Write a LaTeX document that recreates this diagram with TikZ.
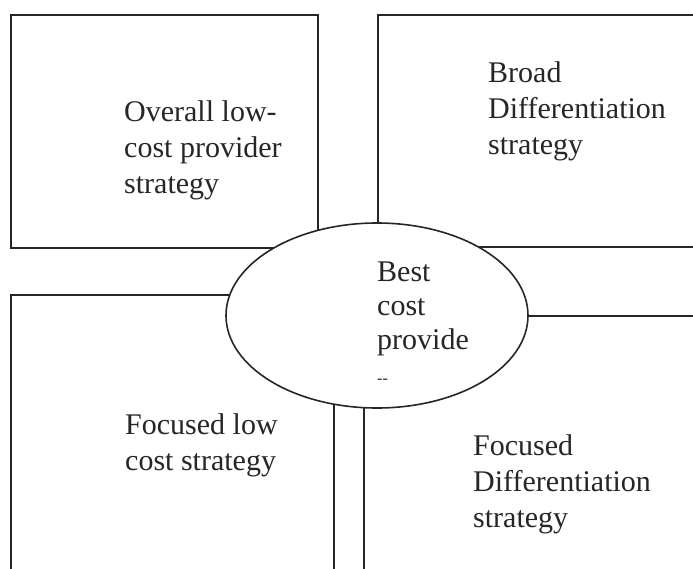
\documentclass[tikz,border=0pt]{standalone}
\usepackage{fontspec}
\setmainfont{Liberation Serif}
\usetikzlibrary{shapes.geometric}
\begin{document}
\begin{tikzpicture}[x=1pt,y=-1pt,
  box/.style={draw=black!85, line width=1.6pt, inner sep=0pt, anchor=north west},
  lbl/.style={anchor=base west, align=left, inner sep=0pt, font=\fontsize{30}{36}\selectfont, text=black!85},
  oval/.style={draw=black!85, line width=1.6pt, fill=white, ellipse, inner sep=0pt, minimum width=302pt, minimum height=185pt}]
\useasboundingbox (0,0) rectangle (693,568);
\clip (0,0) rectangle (693,568);
% four strategy boxes
\node[box, minimum width=307pt, minimum height=233pt] (tl) at (10,14) {};
\node[box, minimum width=330pt, minimum height=232pt] (tr) at (377,14) {};
\node[box, minimum width=323pt, minimum height=290pt] (bl) at (10,294) {};
\node[box, minimum width=340pt, minimum height=270pt] (br) at (363,315) {};
% central oval
\node[oval] (bc) at (377,315.5) {};
% texts (anchored at the baseline of the last line)
\node[lbl] (tltext) at (124,193) {Overall low-\\cost provider\\strategy};
\node[lbl] (trtext) at (488,154) {Broad\\Differentiation\\strategy};
\node[lbl] (bltext) at (125,470) {Focused low\\cost strategy};
\node[lbl] (brtext) at (473,527) {Focused\\Differentiation\\strategy};
\node[lbl, font=\fontsize{30}{34}\selectfont] (bctext) at (377,383) {Best\\cost\\provide\\{\fontsize{16}{16}\selectfont -{}-}};
\end{tikzpicture}
\end{document}
